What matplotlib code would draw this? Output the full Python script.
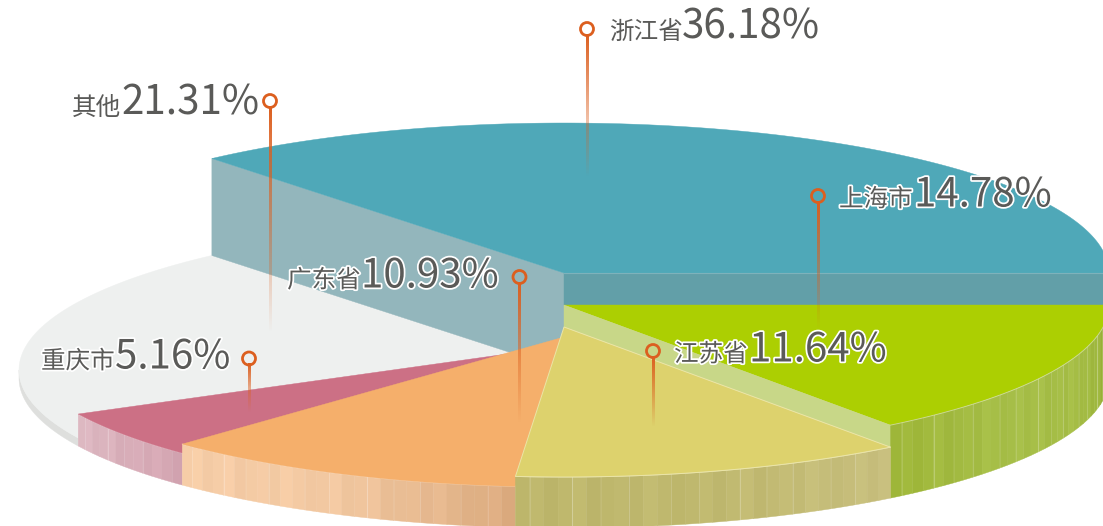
import numpy as np
import matplotlib
matplotlib.use("Agg")
import matplotlib.pyplot as plt
from matplotlib.patches import Polygon, Circle
from matplotlib.colors import to_rgb
import matplotlib.patheffects as pe

plt.rcParams['font.family'] = ['Noto Sans CJK SC', 'DejaVu Sans']

# ---- data (in drawing order, counter-clockwise from 3 o'clock) ----
regions = ['浙江省', '其他', '重庆市', '广东省', '江苏省', '上海市']
shares = [36.18, 21.31, 5.16, 10.93, 11.64, 14.78]

# ---- style ----
top_colors = ['#4FA8B8', '#EEF0EF', '#CC7085', '#F5AF6B', '#DDD26D', '#ACCF02']
wall_stops = [None, ['#DEDFDD', '#E3E4E2'], ['#DDB9C2', '#D3A3B0'],
              ['#F6CDA7', '#F2C8A1', '#DBAA7E'], ['#BDB66B', '#BFB86E', '#C8BF7E'],
              ['#9EB638', '#A6BE48', '#A4BC44', '#8FA92C']]
slice_cy = [273, 370, 346, 337, 327, 305]
base_cy = 378
cx, rx, ry = 564, 545, 150

pin_xy = [(587, 29), (270, 101), (249, 358.5), (519.5, 277), (653, 351), (818, 196)]
stem_end = [177, 333, 412, 423, 427, 330]
name_xy = [(609, 38.5), (72, 114.5), (41, 368.5), (287, 287.5), (674, 361.5), (839, 206.5)]
pct_x = [682, 121, 115, 361, 749, 914]
on_pie = [False, False, True, True, True, True]
pin_color = '#DC5F1F'
text_color = '#5A5A58'

fig = plt.figure(figsize=(11.03, 5.26), dpi=100)
ax = fig.add_axes([0, 0, 1, 1])
ax.axis('off')

edges = np.concatenate([[0], np.cumsum(shares)]) / sum(shares) * 2 * np.pi


def ell(t, cy):
    return np.column_stack([cx + rx * np.cos(t), cy - ry * np.sin(t)])


def top(i, z, edge=None):
    t = np.linspace(edges[i], edges[i + 1], 240)
    pts = np.vstack([[cx, slice_cy[i]], ell(t, slice_cy[i])])
    ax.add_patch(Polygon(pts, closed=True, fc=top_colors[i], ec=edge or top_colors[i],
                         lw=0.7 if edge else 0.3, zorder=z))


def flat_wall(angle, cy0, cy1, color, z):
    a = ell(np.array([angle]), cy0)[0]
    b = ell(np.array([angle]), cy1)[0]
    ax.add_patch(Polygon([[cx, cy0], a, b, [cx, cy1]], closed=True, fc=color, ec=color, lw=0.3, zorder=z))


shade_cycle = [0.0, 0.03, -0.02, 0.012, 0.04, -0.025, 0.0, 0.02, -0.012, 0.045, 0.008, -0.02]
line_cycle = [0, 0.14, 0, 0, 0.24, 0, 0.08, 0, 0.18, 0, 0, 0.1]


def outer_wall(i, z):
    t0, t1 = edges[i], edges[i + 1]
    n = max(int(np.degrees(t1 - t0) / 1.45), 1)
    ts = np.linspace(t0, t1, n + 1)
    stops = np.array([to_rgb(c) for c in wall_stops[i]])
    pos = np.linspace(0, 1, len(stops))
    for k in range(n):
        f = (k + 0.5) / n
        col = np.array([np.interp(f, pos, stops[:, j]) for j in range(3)])
        s = shade_cycle[k % len(shade_cycle)] * 0.4
        col = np.clip(col + s, 0, 1)
        seg = np.linspace(ts[k], ts[k + 1], 5)
        pts = np.vstack([ell(seg, slice_cy[i]), ell(seg[::-1], base_cy)])
        ax.add_patch(Polygon(pts, closed=True, fc=col, ec=col, lw=0.3, zorder=z))
        la = line_cycle[k % len(line_cycle)]
        if la and k:
            p = ell(np.array([ts[k]]), slice_cy[i])[0]
            q = ell(np.array([ts[k]]), base_cy)[0]
            ax.plot([p[0], q[0]], [p[1], q[1]], color='white', alpha=la, lw=0.8, zorder=z + 0.1)
    arc = ell(np.linspace(t0, t1, 120), slice_cy[i])
    ax.plot(arc[:, 0], arc[:, 1], color='white', alpha=0.4, lw=0.7, zorder=z + 0.2)


# painter's order: back to front
t_w0, t_w1 = np.pi, edges[2]
pts = np.vstack([ell(np.linspace(t_w0, t_w1, 60), slice_cy[1]),
                 ell(np.linspace(t_w1, t_w0, 60), base_cy)])
ax.add_patch(Polygon(pts, closed=True, fc='#DEDFDD', ec='#DEDFDD', lw=0.3, zorder=1))
top(1, 2)

flat_wall(edges[1], slice_cy[0], slice_cy[1], '#93B6BC', 3)
flat_wall(edges[0], slice_cy[0], slice_cy[5], '#629FA8', 3)
top(0, 4)
a0 = ell(np.array([0.0]), slice_cy[0])[0]
ax.plot([cx, a0[0]], [slice_cy[0], slice_cy[0]], color='white', alpha=0.2, lw=0.8, zorder=4.1)

outer_wall(2, 5)
top(2, 6)
outer_wall(3, 7)
top(3, 8)
top(5, 9)
flat_wall(edges[5], slice_cy[5], slice_cy[4], '#C8D788', 10)
outer_wall(5, 11)
outer_wall(4, 13)
top(4, 14, edge='#EBE5A6')

# pins and labels
rgb = to_rgb(pin_color)
for i, name in enumerate(regions):
    x, y = pin_xy[i]
    grad = np.zeros((120, 1, 4))
    grad[..., :3] = rgb
    grad[:, 0, 3] = np.linspace(1, 0, 120)
    ax.imshow(grad, extent=(x - 1.2, x + 1.2, stem_end[i], y + 5), aspect='auto',
              origin='upper', zorder=20, interpolation='bilinear')
    ax.add_patch(Circle((x, y), 6.5, fc='none', ec=pin_color, lw=2.0, zorder=21))

    effects = [pe.withStroke(linewidth=2.5, foreground='white')] if on_pie[i] else None
    nx, ny = name_xy[i]
    ax.text(nx, ny, name, fontsize=17.7, color=text_color, ha='left', va='baseline',
            zorder=22, path_effects=effects, fontweight='light')
    ax.text(pct_x[i], ny, f'{shares[i]:.2f}%', fontsize=29, color=text_color, ha='left',
            va='baseline', zorder=22, path_effects=effects, fontweight='light')

ax.set_xlim(0, 1103)
ax.set_ylim(526, 0)
fig.savefig('out.png', dpi=100, facecolor='white')
